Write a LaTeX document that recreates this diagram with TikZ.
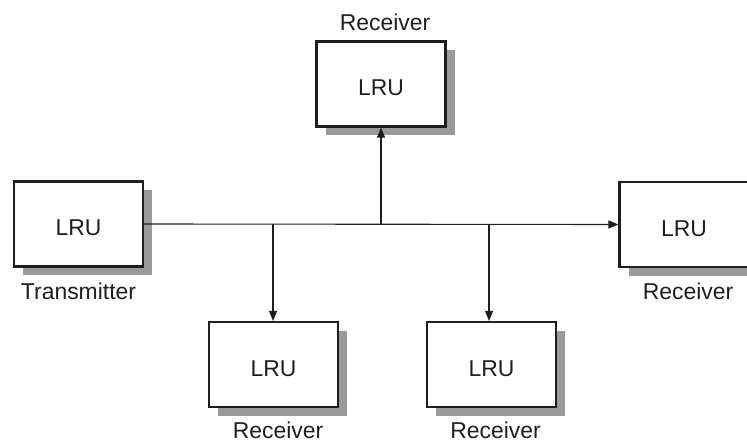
\documentclass[tikz,border=0pt]{standalone}
\usepackage{fontspec}
\setmainfont{Liberation Sans}
\usetikzlibrary{arrows.meta,shadows}
\definecolor{shadowgray}{HTML}{9A9A9C}
\definecolor{inkc}{HTML}{1E1E1E}
\begin{document}
\begin{tikzpicture}[x=1bp,y=-1bp,
  lru/.style={draw=inkc, line width=2.2bp, fill=white, minimum width=129bp, minimum height=85bp,
    inner sep=0pt, font=\fontsize{23}{27}\selectfont, text=inkc, text height=24bp, text depth=0pt,
    general shadow={fill=shadowgray, shadow xshift=9bp, shadow yshift=-9bp}},
  lbl/.style={font=\fontsize{23}{27}\selectfont, text=inkc, inner sep=0pt, anchor=base},
  conn/.style={draw=inkc, line width=1.1bp},
  arr/.style={conn, -{Triangle[length=10bp,width=8bp]}}]
\useasboundingbox (0,0) rectangle (747,442);
\node[lru] (tx) at (78.5,224) {LRU};
\node[lru] (top) at (381,84) {LRU};
\node[lru] (bl) at (273.5,364.5) {LRU};
\node[lru] (br) at (491.5,364.5) {LRU};
\node[lru] (rt) at (684,224.5) {LRU};
\node[lbl] (ltx) at (78.5,299.5) {Transmitter};
\node[lbl] (ltop) at (385,30.5) {Receiver};
\node[lbl] (lbl) at (278,438) {Receiver};
\node[lbl] (lbr) at (495.5,438) {Receiver};
\node[lbl] (lrt) at (688,300) {Receiver};
\coordinate (j1) at (273,224);
\coordinate (j2) at (381,224);
\coordinate (j3) at (489,224);
\draw[arr] (tx.east) -- (rt.west);
\draw[arr] (j1) -- (j1 |- bl.north);
\draw[arr] (j2) -- (j2 |- top.south);
\draw[arr] (j3) -- (j3 |- br.north);
\end{tikzpicture}
\end{document}
